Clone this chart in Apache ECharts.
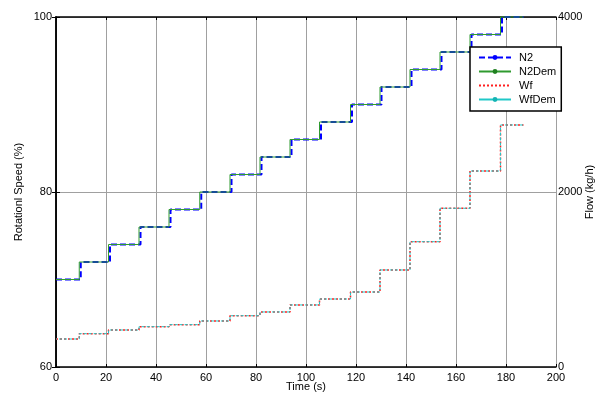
<!DOCTYPE html>
<html>
<head>
<meta charset="utf-8">
<script src="https://cdn.jsdelivr.net/npm/echarts@6/dist/echarts.min.js"></script>
<style>
  html, body { margin: 0; padding: 0; background: #fff; }
  #chart { width: 605px; height: 399px; }
</style>
</head>
<body>
<div id="chart"></div>
<script>
// step instants (s) of the demand signals and of the measured N2
const demTimes = [0, 9.3, 21.0, 33.2, 45.2, 57.5, 69.6, 81.6, 93.6, 105.4, 117.8, 129.6, 141.6, 153.6, 165.6, 177.8]
const n2Times = [0, 9.9, 21.6, 33.8, 45.8, 58.1, 70.2, 82.2, 94.2, 106.0, 118.4, 130.2, 142.2, 154.2, 166.2, 178.4]
const endTime = 187

// rotational speed (%)
const n2DemLevels = [70, 72, 74, 76, 78, 80, 82, 84, 86, 88, 90, 92, 94, 96, 98, 100]
const n2Levels = [70, 72, 74, 76, 78, 80, 82, 84, 86, 88, 90, 92, 94, 96, 98, 100]

// fuel flow (kg/h)
const wfDemLevels = [320, 381, 423, 461, 484, 526, 586, 629, 709, 777, 857, 1109, 1432, 1814, 2240, 2766]
const wfLevels = [320, 381, 423, 461, 484, 526, 586, 629, 709, 777, 857, 1109, 1432, 1814, 2240, 2766]

const FONT = 'Liberation Sans, Arial, sans-serif'

function toSteps(times, levels) {
  const pts = times.map((t, i) => [t, levels[i]])
  pts.push([endTime, levels[levels.length - 1]])
  return pts
}

const chart = echarts.init(document.getElementById('chart'), null, { renderer: 'canvas' })

const axisLine = { show: true, lineStyle: { color: '#000', width: 1.5 } }
const gridLine = { show: true, lineStyle: { color: '#a0a0a0', width: 1 } }
const tickLabel = { color: '#000', fontSize: 11, fontFamily: FONT, formatter: v => String(v) }
const nameStyle = { color: '#000', fontSize: 11, fontFamily: FONT }

chart.setOption({
  animation: false,
  backgroundColor: '#fff',
  grid: { left: 56, right: 49, top: 17, bottom: 32, containLabel: false, outerBoundsMode: 'none' },
  legend: {
    orient: 'vertical',
    left: 470,
    top: 47,
    padding: [5, 5, 6, 8],
    itemGap: 3,
    itemWidth: 32,
    itemHeight: 6,
    icon: 'inherit',
    backgroundColor: '#fff',
    borderColor: '#000',
    borderWidth: 1.5,
    borderRadius: 0,
    textStyle: { color: '#000', fontSize: 11, fontFamily: FONT, padding: [0, 0, 0, 3] },
    data: ['N2', 'N2Dem', 'Wf', { name: 'WfDem', lineStyle: { type: 'solid' } }]
  },
  xAxis: [
    {
      type: 'value',
      min: 0, max: 200, interval: 20,
      name: 'Time (s)',
      nameLocation: 'middle',
      nameGap: 14,
      nameMoveOverlap: false,
      nameTextStyle: nameStyle,
      axisLine: axisLine,
      axisTick: { show: true, inside: true, length: 3, lineStyle: { color: '#000' } },
      axisLabel: Object.assign({}, tickLabel, { margin: 5 }),
      splitLine: gridLine
    },
    {
      type: 'value',
      position: 'top',
      min: 0, max: 200, interval: 20,
      axisLine: axisLine,
      axisTick: { show: true, inside: true, length: 3, lineStyle: { color: '#000' } },
      axisLabel: { show: false },
      splitLine: { show: false }
    }
  ],
  yAxis: [
    {
      type: 'value',
      min: 60, max: 100, interval: 20,
      name: 'Rotationl Speed (%)',
      nameLocation: 'middle',
      nameRotate: 90,
      nameGap: 32,
      nameMoveOverlap: false,
      nameTextStyle: nameStyle,
      axisLine: axisLine,
      axisTick: { show: true, inside: true, length: 4, lineStyle: { color: '#000' } },
      axisLabel: Object.assign({}, tickLabel, { margin: 4 }),
      splitLine: gridLine
    },
    {
      type: 'value',
      position: 'right',
      min: 0, max: 4000, interval: 2000,
      name: 'Flow (kg/h)',
      nameLocation: 'middle',
      nameRotate: 90,
      nameGap: 28,
      nameMoveOverlap: false,
      nameTextStyle: nameStyle,
      axisLine: axisLine,
      axisTick: { show: true, inside: true, length: 4, lineStyle: { color: '#000' } },
      axisLabel: Object.assign({}, tickLabel, { margin: 2 }),
      splitLine: { show: false }
    }
  ],
  series: [
    {
      name: 'N2',
      type: 'line',
      yAxisIndex: 0,
      step: 'end',
      data: toSteps(n2Times, n2Levels),
      symbol: 'circle',
      symbolSize: 6,
      showSymbol: false,
      clip: false,
      itemStyle: { color: '#0000ff' },
      lineStyle: { color: '#0000ff', width: 2, type: [6, 3] },
      z: 2
    },
    {
      name: 'N2Dem',
      type: 'line',
      yAxisIndex: 0,
      step: 'end',
      data: toSteps(demTimes, n2DemLevels),
      symbol: 'circle',
      symbolSize: 3,
      showSymbol: false,
      clip: false,
      itemStyle: { color: '#1f7f1f' },
      lineStyle: { color: '#2f9a2f', width: 1 },
      z: 3
    },
    {
      name: 'Wf',
      type: 'line',
      yAxisIndex: 1,
      step: 'end',
      data: toSteps(demTimes, wfLevels),
      symbol: 'circle',
      showSymbol: false,
      itemStyle: { color: '#ff0000', opacity: 0 },
      lineStyle: { color: '#ff2020', width: 1.5, type: [2, 2], opacity: 1 },
      z: 2
    },
    {
      name: 'WfDem',
      type: 'line',
      yAxisIndex: 1,
      step: 'end',
      data: toSteps(demTimes, wfDemLevels),
      symbol: 'circle',
      symbolSize: 3,
      showSymbol: false,
      itemStyle: { color: '#14b4b4' },
      lineStyle: { color: '#20c8c8', width: 1, type: [3, 2], dashOffset: 2 },
      z: 3
    }
  ]
})
</script>
</body>
</html>
